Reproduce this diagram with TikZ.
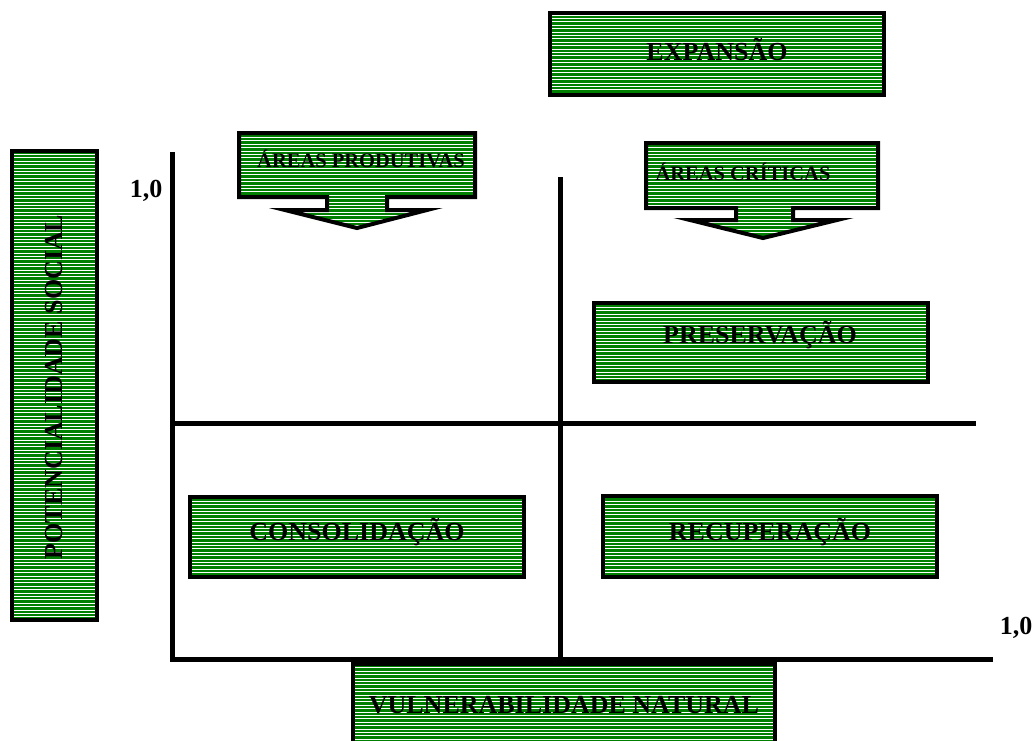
\documentclass[tikz,border=0pt]{standalone}
\usepackage{fontspec}
\setmainfont{Liberation Serif}
\definecolor{boxgreen}{RGB}{0,128,0}
% striped green shape with a black outline
\newcommand{\stripeshape}[1]{%
  \begin{scope}
    \clip #1;
    \fill[boxgreen] (0,0) rectangle (1034,760);
    \foreach \yy in {1.5,4.9,...,760} \draw[stripe] (0,\yy) -- (1034,\yy);
  \end{scope}
  \draw[boxedge] #1;
}
\tikzset{
  stripe/.style={white, line width=1.15pt},
  boxedge/.style={black, line width=4pt, line join=miter},
  axisline/.style={black, line width=5pt},
  lbl/.style={font=\bfseries\fontsize{26}{26}\selectfont, inner sep=0pt, anchor=base},
  smalllbl/.style={lbl, font=\bfseries\fontsize{20.5}{20.5}\selectfont},
}
\begin{document}
\begin{tikzpicture}[x=1pt, y=-1pt]
\useasboundingbox (0,0) rectangle (1034,740);

% quadrant axes
\coordinate (lvTop) at (172.5,152);
\coordinate (lvBot) at (172.5,662);
\coordinate (cvTop) at (560,177);
\coordinate (cvBot) at (560,664);
\coordinate (mhL) at (170,423.5);
\coordinate (mhR) at (976,423.5);
\coordinate (bhL) at (170,659.5);
\coordinate (bhR) at (993,659.5);
\draw[axisline] (lvTop) -- (lvBot);
\draw[axisline] (cvTop) -- (cvBot);
\draw[axisline] (mhL) -- (mhR);
\draw[axisline] (bhL) -- (bhR);

% boxes
\stripeshape{(550,13) rectangle (884,95)}
\stripeshape{(12,151) rectangle (97,620)}
\stripeshape{(594,303) rectangle (928,382)}
\stripeshape{(190,497) rectangle (524,577)}
\stripeshape{(603,496) rectangle (937,577)}
\stripeshape{(353,664) rectangle (775,750)}

% arrow-shaped boxes
\stripeshape{(239,133) -- (475,133) -- (475,197) -- (387,197) -- (387,210) -- (427,210) -- (357,228) -- (285,210) -- (327,210) -- (327,197) -- (239,197) -- cycle}
\stripeshape{(646,143) -- (878,143) -- (878,208) -- (793,208) -- (793,220) -- (837,220) -- (763,238) -- (690,220) -- (736,220) -- (736,208) -- (646,208) -- cycle}

% labels
\node[lbl] (expansao) at (717,60) {EXPANSÃO};
\node[lbl, rotate=90] (potencial) at (62,387) {POTENCIALIDADE SOCIAL};
\node[smalllbl] (produtivas) at (361,167) {ÁREAS PRODUTIVAS};
\node[smalllbl] (criticas) at (743,180) {ÁREAS CRÍTICAS};
\node[lbl] (preservacao) at (760,343) {PRESERVAÇÃO};
\node[lbl] (consolidacao) at (357,540) {CONSOLIDAÇÃO};
\node[lbl] (recuperacao) at (770,540) {RECUPERAÇÃO};
\node[lbl] (vulnerab) at (564,713) {VULNERABILIDADE NATURAL};
\node[lbl] (ytick) at (146,197) {1,0};
\node[lbl] (xtick) at (1016,634) {1,0};
\end{tikzpicture}
\end{document}
